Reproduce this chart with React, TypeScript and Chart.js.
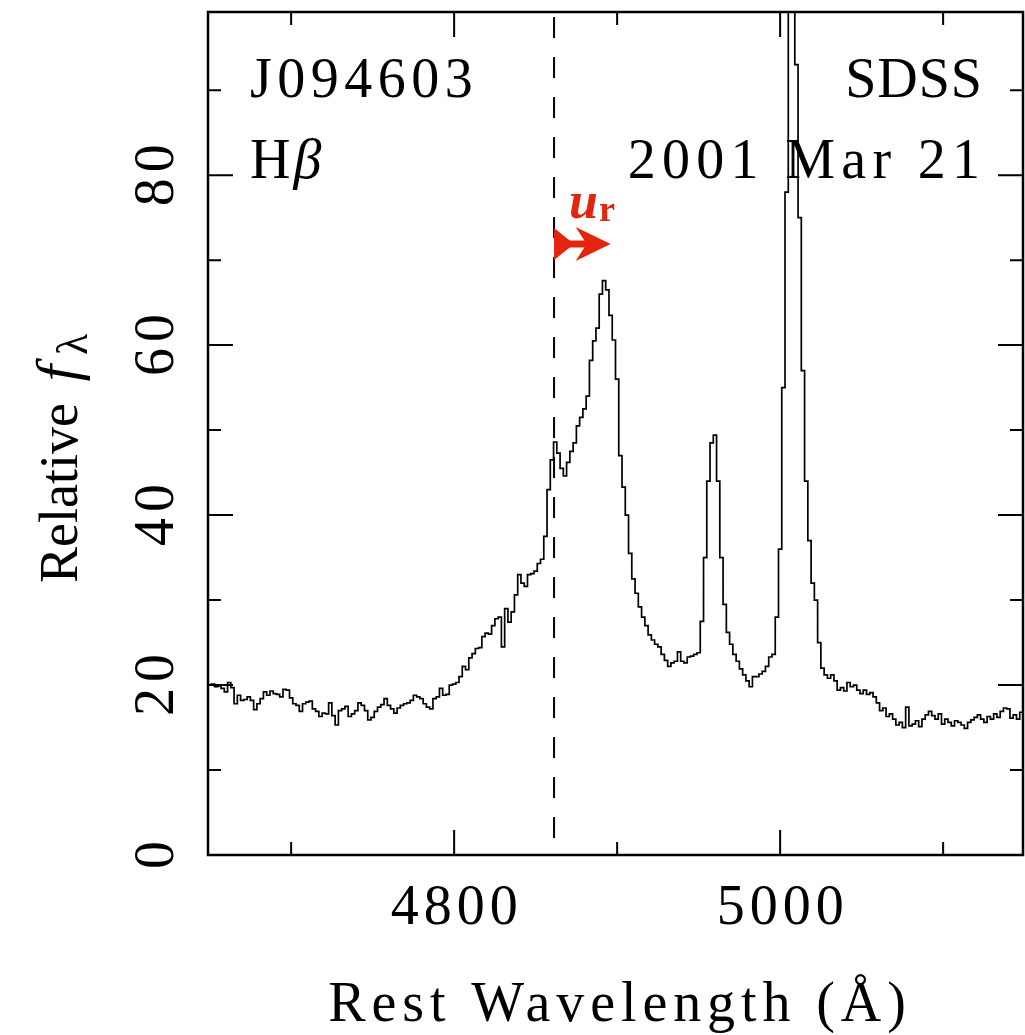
import React, { useEffect, useRef } from 'react';
import { Chart, registerables } from 'chart.js';

Chart.register(...registerables);

// Spectrum sampling: rest wavelength grid (Å)
const WAVE_START = 4650;
const WAVE_STEP = 2;

// Relative flux per 2 Å bin, 4650 … 5150 Å
const flux: number[] = [
  20.0, 20.1, 19.8, 19.9, 19.6, 19.2, 20.3, 19.7, 17.8, 18.8,
  18.2, 18.3, 18.6, 18.2, 17.1, 17.8, 18.4, 19.2, 18.8, 19.3,
  19.0, 18.9, 18.6, 19.5, 19.4, 18.5, 17.8, 17.6, 16.9, 17.8,
  18.0, 18.1, 17.2, 16.9, 16.3, 16.7, 16.6, 17.9, 16.4, 15.3,
  17.0, 17.2, 17.5, 16.3, 16.6, 17.0, 17.9, 17.6, 17.0, 15.9,
  16.2, 16.9, 17.4, 17.7, 18.4, 17.6, 17.2, 16.7, 17.3, 17.6,
  17.8, 17.9, 18.2, 18.8, 18.6, 18.4, 17.8, 17.4, 17.2, 18.4,
  18.6, 19.6, 18.8, 18.9, 20.0, 20.1, 20.3, 21.0, 22.2, 21.8,
  23.2, 23.7, 24.3, 24.4, 25.7, 26.1, 26.0, 27.0, 27.8, 28.0,
  24.5, 29.0, 27.4, 28.6, 30.6, 33.0, 32.0, 31.6, 33.0, 33.1,
  33.4, 34.3, 34.8, 37.5, 43.0, 46.5, 48.6, 47.3, 45.5, 44.6,
  46.2, 47.5, 48.5, 50.5, 51.5, 52.5, 54.0, 58.2, 60.5, 62.0,
  66.0, 67.6, 66.5, 63.5, 60.6, 56.0, 47.0, 43.3, 40.0, 35.5,
  32.5, 30.8, 29.2, 28.0, 27.0, 25.9, 25.3, 24.8, 24.5, 23.6,
  22.9, 22.2, 22.6, 22.8, 23.9, 22.8, 22.6, 23.3, 23.4, 23.6,
  23.8, 27.5, 35.0, 44.0, 48.5, 49.4, 44.0, 35.0, 29.5, 26.2,
  24.8, 23.6, 22.8, 21.9, 21.2, 20.5, 19.8, 21.0, 21.0, 21.3,
  21.6, 22.2, 23.3, 23.6, 28.0, 36.0, 55.0, 78.0, 101.0, 115.0,
  93.0, 75.0, 57.0, 44.0, 37.0, 32.0, 30.0, 25.0, 22.0, 21.2,
  20.8, 21.2, 20.5, 19.4, 19.7, 19.3, 20.3, 19.8, 20.0, 19.4,
  19.0, 19.4, 18.9, 19.1, 18.6, 17.9, 17.0, 17.3, 16.3, 16.6,
  16.0, 15.3, 15.6, 15.0, 17.4, 15.2, 15.4, 15.8, 15.1, 16.0,
  16.5, 16.9, 16.4, 16.0, 16.6, 15.4, 16.0, 15.6, 15.2, 15.8,
  15.6, 15.3, 14.9, 15.6, 15.9, 16.2, 16.5, 16.0, 15.6, 16.3,
  16.0, 16.6, 16.2, 16.9, 17.3, 17.2, 16.1, 16.5, 16.0, 16.8,
  16.4,
];

const xMajorTicks = [4800, 5000];
const xMinorTicks = [4700, 4900, 5100];
const yMajorTicks = [0, 20, 40, 60, 80];
const yMinorTicks = [10, 30, 50, 70, 90];

const X_MIN = 4649;
const X_MAX = 5149;
const Y_MIN = 0;
const Y_MAX = 99.2;

const HBETA_REST = 4861.3;
const ARROW_END = 4896;
const ARROW_LEVEL = 71.9;

const SERIF = '"Liberation Serif", "DejaVu Serif", serif';
const RED = 'rgb(228, 36, 12)';

function drawSpaced(ctx: CanvasRenderingContext2D, text: string, x: number, y: number, spacing: number, align: 'left' | 'right' | 'center') {
  (ctx as any).letterSpacing = `${spacing}px`;
  ctx.textAlign = 'left';
  const w = ctx.measureText(text).width - spacing;
  let sx = x;
  if (align === 'right') sx = x - w;
  else if (align === 'center') sx = x - w / 2;
  ctx.fillText(text, sx, y);
  (ctx as any).letterSpacing = '0px';
}

const decorPlugin = {
  id: 'decor',
  afterDatasetsDraw(chart: any) {
    const ctx: CanvasRenderingContext2D = chart.ctx;
    const xs = chart.scales.x;
    const ys = chart.scales.y;
    const { left, right, top, bottom } = chart.chartArea;
    ctx.save();

    // dashed H-beta rest line
    const xh = xs.getPixelForValue(HBETA_REST);
    ctx.strokeStyle = '#000';
    ctx.lineWidth = 2;
    ctx.setLineDash([21, 19]);
    ctx.beginPath();
    ctx.moveTo(xh, top + 5);
    ctx.lineTo(xh, bottom);
    ctx.stroke();
    ctx.setLineDash([]);

    // frame
    ctx.lineWidth = 2.5;
    ctx.strokeRect(left, top, right - left, bottom - top);

    // ticks (inward)
    ctx.lineWidth = 2;
    const majLen = 25;
    const minLen = 13;
    ctx.beginPath();
    for (const v of xMajorTicks) {
      const p = xs.getPixelForValue(v);
      ctx.moveTo(p, bottom); ctx.lineTo(p, bottom - majLen);
      ctx.moveTo(p, top); ctx.lineTo(p, top + majLen);
    }
    for (const v of xMinorTicks) {
      const p = xs.getPixelForValue(v);
      ctx.moveTo(p, bottom); ctx.lineTo(p, bottom - minLen);
      ctx.moveTo(p, top); ctx.lineTo(p, top + minLen);
    }
    for (const v of yMajorTicks) {
      const p = ys.getPixelForValue(v);
      ctx.moveTo(left, p); ctx.lineTo(left + majLen, p);
      ctx.moveTo(right, p); ctx.lineTo(right - majLen, p);
    }
    for (const v of yMinorTicks) {
      const p = ys.getPixelForValue(v);
      ctx.moveTo(left, p); ctx.lineTo(left + minLen, p);
      ctx.moveTo(right, p); ctx.lineTo(right - minLen, p);
    }
    ctx.stroke();

    ctx.fillStyle = '#000';
    ctx.textBaseline = 'alphabetic';

    // x tick labels
    ctx.font = `56px ${SERIF}`;
    for (const v of xMajorTicks) {
      drawSpaced(ctx, String(v), xs.getPixelForValue(v), 924, 5, 'center');
    }
    // y tick labels (rotated)
    for (const v of yMajorTicks) {
      const p = ys.getPixelForValue(v);
      ctx.save();
      ctx.translate(173, p);
      ctx.rotate(-Math.PI / 2);
      drawSpaced(ctx, String(v), 0, 0, 6, 'center');
      ctx.restore();
    }

    // x axis title
    ctx.font = `56px ${SERIF}`;
    drawSpaced(ctx, 'Rest Wavelength (Å)', 617, 1021, 5.9, 'center');

    // y axis title
    ctx.save();
    ctx.translate(77, 583);
    ctx.rotate(-Math.PI / 2);
    ctx.textAlign = 'left';
    ctx.font = `54px ${SERIF}`;
    const t1 = 'Relative ';
    ctx.fillText(t1, 0, 0);
    let off = ctx.measureText(t1).width + 8;
    ctx.font = `italic 60px ${SERIF}`;
    ctx.fillText('f', off, 0);
    off += ctx.measureText('f').width + 10;
    ctx.font = `44px ${SERIF}`;
    ctx.fillText('λ', off, 10);
    ctx.restore();

    // annotations
    ctx.font = `56px ${SERIF}`;
    drawSpaced(ctx, 'J094603', 250, 97, 5.5, 'left');
    drawSpaced(ctx, 'SDSS', 982, 97, 1, 'right');
    drawSpaced(ctx, '2001 Mar 21', 980, 178, 6.3, 'right');
    ctx.textAlign = 'left';
    ctx.fillText('H', 250, 178);
    const hw = ctx.measureText('H').width;
    ctx.font = `italic 56px ${SERIF}`;
    ctx.fillText('β', 250 + hw + 3, 178);

    // red arrow u_r
    const ax0 = xh;
    const ax1 = xs.getPixelForValue(ARROW_END);
    const ay = ys.getPixelForValue(ARROW_LEVEL);
    ctx.fillStyle = RED;
    ctx.strokeStyle = RED;
    ctx.lineWidth = 7;
    ctx.beginPath();
    ctx.moveTo(ax0 + 4, ay);
    ctx.lineTo(ax1 - 16, ay);
    ctx.stroke();
    ctx.beginPath();
    ctx.moveTo(ax0, ay - 16);
    ctx.lineTo(ax0 + 20, ay);
    ctx.lineTo(ax0, ay + 16);
    ctx.closePath();
    ctx.fill();
    ctx.beginPath();
    ctx.moveTo(ax1 - 35, ay - 17);
    ctx.lineTo(ax1, ay);
    ctx.lineTo(ax1 - 35, ay + 17);
    ctx.lineTo(ax1 - 24, ay);
    ctx.closePath();
    ctx.fill();

    ctx.font = `bold italic 52px ${SERIF}`;
    ctx.textAlign = 'left';
    ctx.fillText('u', 569, 218);
    const uw = ctx.measureText('u').width;
    ctx.font = `bold 36px ${SERIF}`;
    ctx.fillText('r', 569 + uw + 1, 221);

    ctx.restore();
  },
};

export default function App() {
  const canvasRef = useRef<HTMLCanvasElement | null>(null);

  useEffect(() => {
    const canvas = canvasRef.current;
    if (!canvas) return;
    const points = flux.map((f, i) => ({ x: WAVE_START + i * WAVE_STEP, y: f }));
    const chart = new Chart(canvas, {
      type: 'line',
      data: {
        datasets: [
          {
            label: 'J094603 SDSS 2001 Mar 21',
            data: points,
            borderColor: '#000',
            borderWidth: 1.7,
            pointRadius: 0,
            stepped: 'middle',
            fill: false,
          } as any,
        ],
      },
      options: {
        animation: false,
        responsive: false,
        maintainAspectRatio: false,
        devicePixelRatio: 1,
        layout: { padding: { top: 12, right: 2, left: 0, bottom: 0 } },
        plugins: {
          legend: { display: false },
          tooltip: { enabled: false },
        },
        scales: {
          x: {
            type: 'linear',
            min: X_MIN,
            max: X_MAX,
            ticks: { display: false },
            grid: { display: false },
            border: { display: false },
            afterFit: (s: any) => { s.height = 180; },
          },
          y: {
            type: 'linear',
            min: Y_MIN,
            max: Y_MAX,
            ticks: { display: false },
            grid: { display: false },
            border: { display: false },
            afterFit: (s: any) => { s.width = 208; },
          },
        },
      } as any,
      plugins: [decorPlugin],
    });
    return () => chart.destroy();
  }, []);

  return (
    <div style={{ position: 'absolute', left: 0, top: 0, width: 1025, height: 1035, background: '#fff' }}>
      <canvas ref={canvasRef} width={1025} height={1035} style={{ display: 'block' }} />
    </div>
  );
}
